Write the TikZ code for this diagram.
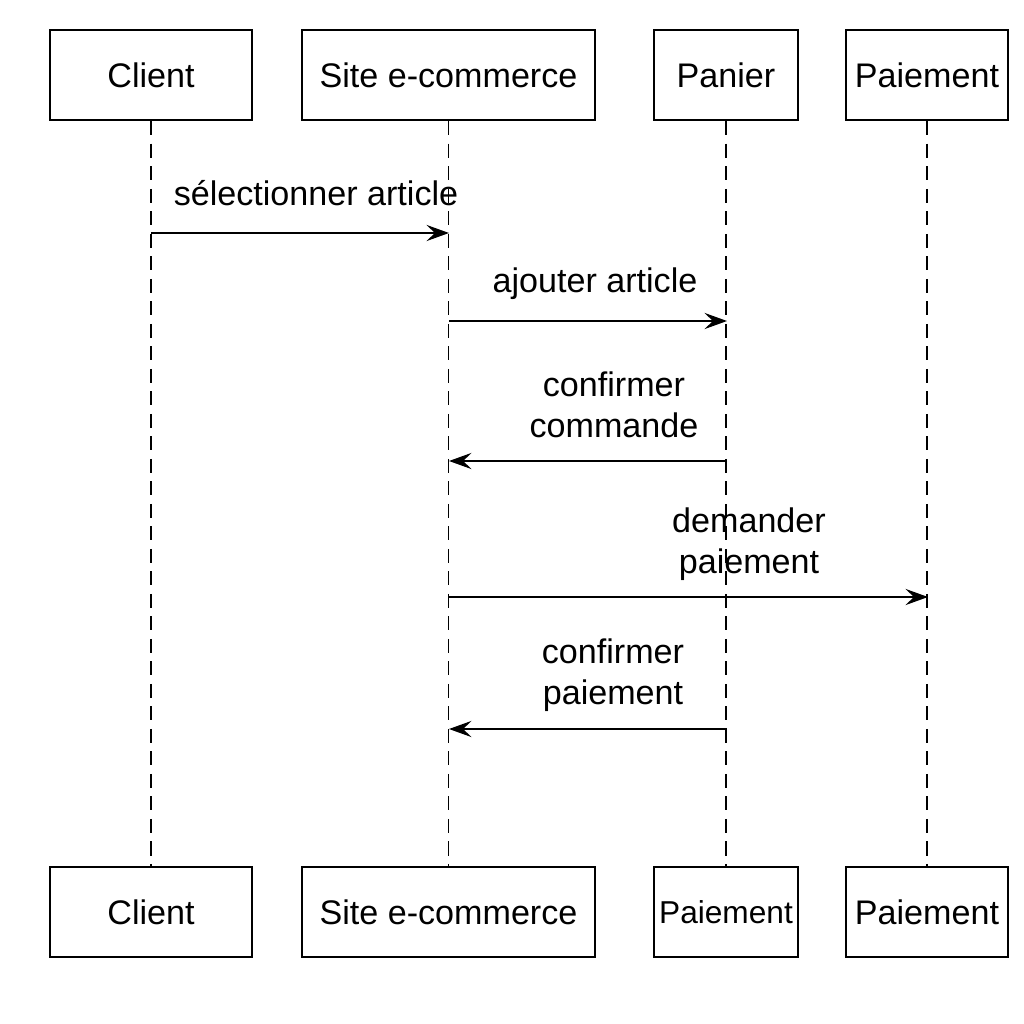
\documentclass[tikz,border=0pt]{standalone}
\usepackage{fontspec}
\setmainfont{Liberation Sans}
\usetikzlibrary{arrows.meta}
\begin{document}
\begin{tikzpicture}[x=0.01cm,y=-0.01cm,
  actor/.style={draw=black,line width=0.7pt,fill=white,minimum height=90*0.01cm,inner sep=0pt,font=\fontsize{9.7}{11.6}\selectfont},
  lifeline/.style={draw=black,line width=0.55pt,dash pattern=on 4pt off 2.4pt},
  msg/.style={draw=black,line width=0.6pt,-{Stealth[length=6.4pt,width=4.6pt,inset=2.4pt]}},
  lbl/.style={align=center,inner sep=0pt,font=\fontsize{9.7}{11.6}\selectfont}]
\useasboundingbox[fill=white] (0,0) rectangle (1024,1024);
% top boxes
\node[actor,minimum width=202*0.01cm] (t1) at (151,75) {Client};
\node[actor,minimum width=293*0.01cm] (t2) at (448.5,75) {Site e-commerce};
\node[actor,minimum width=144*0.01cm] (t3) at (726,75) {Panier};
\node[actor,minimum width=162*0.01cm] (t4) at (927,75) {Paiement};
% bottom boxes
\node[actor,minimum width=202*0.01cm] (b1) at (151,912) {Client};
\node[actor,minimum width=293*0.01cm] (b2) at (448.5,912) {Site e-commerce};
\node[actor,minimum width=144*0.01cm,font=\fontsize{9}{11}\selectfont] (b3) at (726,912) {Paiement};
\node[actor,minimum width=162*0.01cm] (b4) at (927,912) {Paiement};
% lifelines
\draw[lifeline] (t1.south) -- (b1.north);
\draw[lifeline] (t2.south) -- (b2.north);
\draw[lifeline] (t3.south) -- (b3.north);
\draw[lifeline] (t4.south) -- (b4.north);
% message anchor points
\coordinate (m1a) at (151,233); \coordinate (m1b) at (449,233);
\coordinate (m2a) at (449,321); \coordinate (m2b) at (727,321);
\coordinate (m3a) at (727,461); \coordinate (m3b) at (449,461);
\coordinate (m4a) at (449,597); \coordinate (m4b) at (928,597);
\coordinate (m5a) at (727,729); \coordinate (m5b) at (449,729);
\draw[msg] (m1a) -- (m1b);
\draw[msg] (m2a) -- (m2b);
\draw[msg] (m3a) -- (m3b);
\draw[msg] (m4a) -- (m4b);
\draw[msg] (m5a) -- (m5b);
% labels
\node[lbl] (l1) at (316,193) {sélectionner article};
\node[lbl] (l2) at (595,284) {ajouter article};
\node[lbl] (l3) at (614,405) {confirmer\\commande};
\node[lbl] (l4) at (749,544) {demander\\paiement};
\node[lbl] (l5) at (613,675) {confirmer\\paiement};
\end{tikzpicture}
\end{document}
